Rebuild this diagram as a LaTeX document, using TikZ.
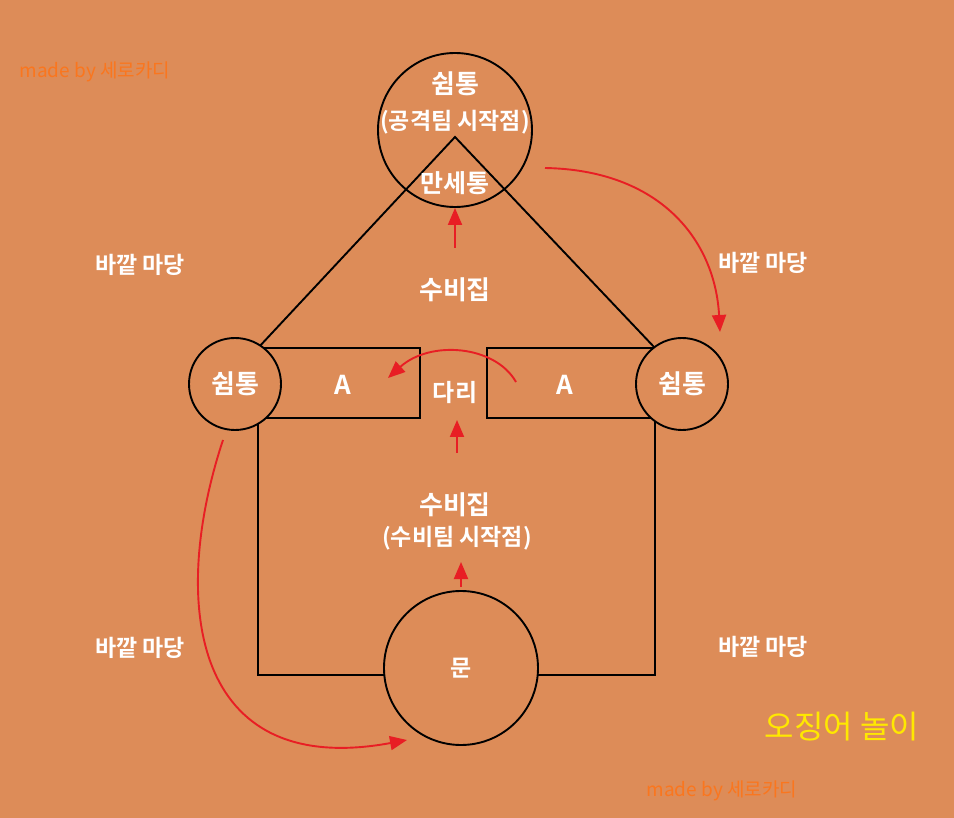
\documentclass[tikz,border=0pt]{standalone}
\usepackage{fontspec}
\usetikzlibrary{arrows.meta}
\newfontfamily\kr{Noto Sans CJK KR}[BoldFont={Noto Sans CJK KR Bold}]
\definecolor{yard}{RGB}{221,140,88}
\definecolor{runred}{RGB}{232,30,36}
\definecolor{signorange}{RGB}{250,118,30}
\definecolor{titleyellow}{RGB}{255,232,0}

\begin{document}
\begin{tikzpicture}[x=1pt,y=-1pt,
  wall/.style={draw,line width=1.9pt,black},
  post/.style={wall,circle,fill=yard,inner sep=0pt},
  move/.style={runred,line width=1.9pt,-{Triangle[length=17pt,width=14pt]}},
  lbl/.style={text=white,inner sep=0pt,font=\kr\bfseries\fontsize{23}{23}\selectfont},
  big/.style={lbl,font=\kr\bfseries\fontsize{26}{26}\selectfont},
  sign/.style={text=signorange,inner sep=0pt,font=\kr\fontsize{19}{19}\selectfont}]
\fill[yard] (0,0) rectangle (954,818);
\useasboundingbox (0,0) rectangle (954,818);
% house outline
\coordinate (apex) at (455,137);
\coordinate (tl) at (258,348);
\coordinate (tr) at (655,348);
\coordinate (bl) at (258,675);
\coordinate (br) at (655,675);
\draw[wall] (tl) -- (apex) -- (tr);
\draw[wall] (tl) -- (420,348) -- (420,418) -- (258,418) -- (bl) -- (br)
  -- (655,418) -- (487,418) -- (487,348) -- (tr);
\node[wall,circle,minimum size=154pt] (home) at (455,130) {};
\node[post,minimum size=92pt] (lpost) at (235,384) {};
\node[post,minimum size=92pt] (rpost) at (682,384) {};
\node[post,minimum size=154pt] (gate) at (461,668) {};
% labels
\node[big] (homet) at (455,84) {쉼통};
\node[lbl] (homes) at (455,122) {(공격팀 시작점)};
\node[lbl,font=\kr\bfseries\fontsize{25}{25}\selectfont] (mansae) at (455,183) {만세통};
\node[big] (upper) at (455,290) {수비집};
\node[big] at (lpost) {쉼통};
\node[big] at (rpost) {쉼통};
\node[lbl,font=\kr\bfseries\fontsize{26}{26}\selectfont] (la) at (343,385) {A};
\node[lbl,font=\kr\bfseries\fontsize{26}{26}\selectfont] (ra) at (565,385) {A};
\node[lbl,font=\kr\bfseries\fontsize{24}{24}\selectfont] (bridge) at (455,393) {다리};
\node[big] (lower) at (455,505) {수비집};
\node[lbl] (lowers) at (457,538) {(수비팀 시작점)};
\node[lbl] at (gate) {문};
\node[lbl] (yd1) at (140,265) {바깥 마당};
\node[lbl] (yd2) at (763,263) {바깥 마당};
\node[lbl] (yd3) at (140,648) {바깥 마당};
\node[lbl] (yd4) at (763,647) {바깥 마당};
\node[text=titleyellow,inner sep=0pt,font=\kr\fontsize{32}{32}\selectfont] (title) at (842,727) {오징어 놀이};
\node[sign] (sg1) at (95,72) {made by 세로카디};
\node[sign] (sg2) at (722,791) {made by 세로카디};
% moves
\coordinate (m1) at (455,248);
\coordinate (m2a) at (457,453); \coordinate (m2b) at (457,420);
\coordinate (m3a) at (461,587); \coordinate (m3b) at (461,562);
\coordinate (c1a) at (516,382); \coordinate (c1b) at (388,378);
\coordinate (c2a) at (545,168); \coordinate (c2b) at (720,332);
\coordinate (c3a) at (223,440); \coordinate (c3b) at (407,740);
\draw[move] (m1) -- (home.south);
\draw[move] (m2a) -- (m2b);
\draw[move] (m3a) -- (m3b);
\draw[move] (c1a) .. controls (495,345) and (430,340) .. (c1b);
\draw[move] (c2a) .. controls (660,170) and (715,240) .. (c2b);
\draw[move] (c3a) .. controls (170,600) and (190,780) .. (c3b);
\end{tikzpicture}
\end{document}
